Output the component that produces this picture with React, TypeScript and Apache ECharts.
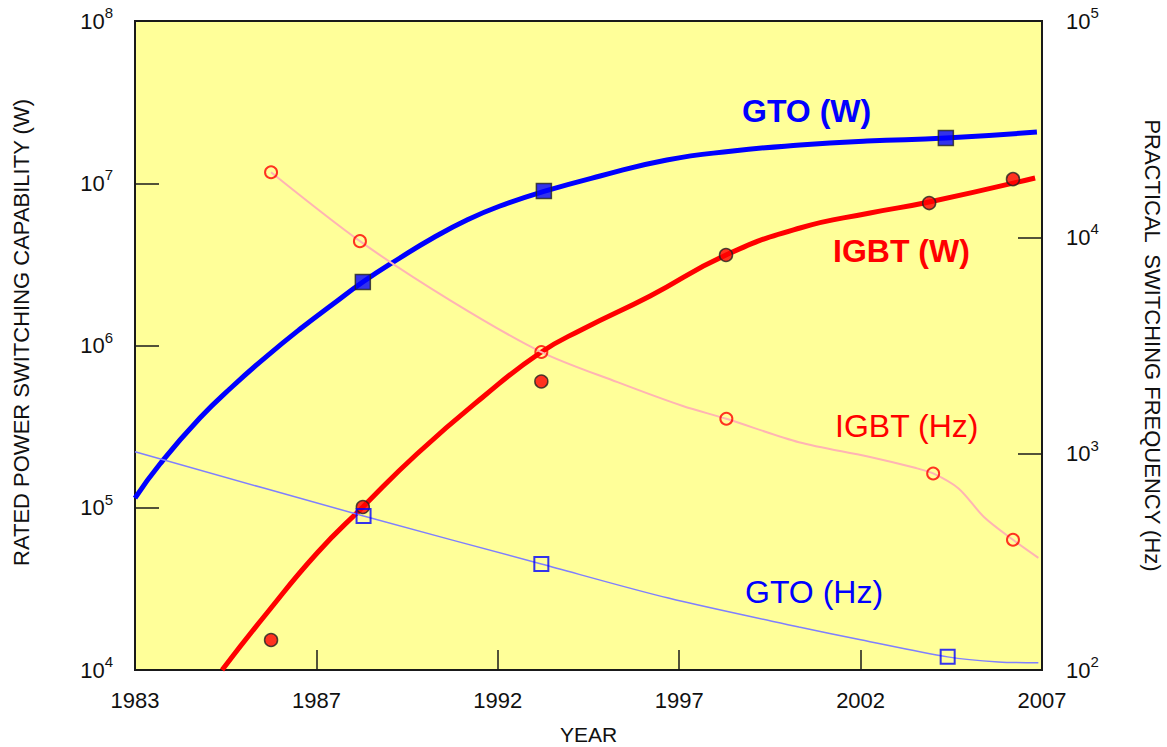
import React, { useEffect, useRef } from "react";
import * as echarts from "echarts";

// ---- axis ticks ----
const xTickYears = [1983, 1987, 1992, 1997, 2002, 2007];

// ---- GTO (W) ----
const gtoWCurveYears = [1983.0, 1983.55, 1984.43, 1985.16, 1985.91, 1986.64, 1987.46, 1988.28, 1989.3, 1990.21, 1991.15, 1992.06, 1993.27, 1994.82, 1996.66, 1998.48, 2000.33, 2002.18, 2004.35, 2006.86];
const gtoWCurveValues = [1.148e5, 1.861e5, 3.574e5, 5.63e5, 8.61e5, 1.264e6, 1.803e6, 2.463e6, 3.462e6, 4.598e6, 5.935e6, 7.24e6, 8.9e6, 1.108e7, 1.391e7, 1.58e7, 1.72e7, 1.821e7, 1.9e7, 2.07e7];
const gtoWYears = [1988.28, 1993.27, 2004.35];
const gtoWValues = [2.463e6, 8.96e6, 1.9e7];

// ---- IGBT (W) ----
const igbtWCurveYears = [1984.92, 1985.91, 1987.02, 1988.28, 1989.77, 1991.59, 1993.16, 1994.35, 1996.2, 1998.29, 2000.33, 2002.26, 2003.89, 2006.81];
const igbtWCurveValues = [1.0e4, 2.245e4, 5.26e4, 1.011e5, 2.145e5, 4.815e5, 8.99e5, 1.264e6, 2.02e6, 3.613e6, 5.3e6, 6.556e6, 7.664e6, 1.078e7];
const igbtWYears = [1986.0, 1988.28, 1993.2, 1998.29, 2003.89, 2006.2];
const igbtWValues = [1.53e4, 1.01e5, 6.0e5, 3.613e6, 7.55e6, 1.06e7];

// ---- IGBT (Hz) ----
const igbtHzCurveYears = [1986.0, 1988.2, 1990.7, 1993.2, 1995.3, 1997.1, 1998.3, 2000.3, 2002.2, 2003.5, 2004.0, 2004.7, 2005.4, 2006.2, 2006.9];
const igbtHzCurveValues = [2.0e4, 9.6e3, 5.1e3, 2.95e3, 2.14e3, 1.66e3, 1.45e3, 1.13e3, 9.7e2, 8.6e2, 8.1e2, 6.9e2, 5.1e2, 4.0e2, 3.3e2];
const igbtHzYears = [1986.0, 1988.2, 1993.2, 1998.3, 2004.0, 2006.2];
const igbtHzValues = [2.0e4, 9.6e3, 2.95e3, 1.45e3, 8.1e2, 4.0e2];

// ---- GTO (Hz) ----
const gtoHzCurveYears = [1983.0, 1988.3, 1993.2, 1996.7, 2000.3, 2002.0, 2004.4, 2005.8, 2006.9];
const gtoHzCurveValues = [1.02e3, 5.15e2, 3.09e2, 2.15e2, 1.58e2, 1.38e2, 1.15e2, 1.09e2, 1.08e2];
const gtoHzYears = [1988.3, 1993.2, 2004.4];
const gtoHzValues = [5.15e2, 3.09e2, 1.15e2];

const FONT = "'Liberation Sans', Arial, Helvetica, sans-serif";

// map a year onto the evenly spaced tick positions of the x axis
function yearPos(year: number): number {
  for (let i = 0; i < xTickYears.length - 1; i++) {
    const a = xTickYears[i];
    const b = xTickYears[i + 1];
    if (year <= b || i === xTickYears.length - 2) {
      return i + (year - a) / (b - a);
    }
  }
  return 0;
}

function pairs(xs: number[], ys: number[]) {
  return xs.map((x, i) => [yearPos(x), ys[i]]);
}

const powLabel = (v: number) => {
  const e = Math.round(Math.log10(v));
  return `{b|10}{s|${e}}`;
};

const richPow = {
  b: { fontSize: 22, lineHeight: 32, fontFamily: FONT, color: "#111" },
  s: { fontSize: 15, verticalAlign: "top", fontFamily: FONT, color: "#111" },
};

export default function App() {
  const ref = useRef<HTMLDivElement>(null);

  useEffect(() => {
    document.body.style.margin = "0";
    document.body.style.overflow = "hidden";
    if (!ref.current) return;
    const chart = echarts.init(ref.current, null, { renderer: "svg" });

    const option = {
      animation: false,
      backgroundColor: "#ffffff",
      textStyle: { fontFamily: FONT },
      grid: {
        left: 135,
        right: 125,
        top: 21,
        bottom: 77,
        outerBoundsMode: "none",
        containLabel: false,
        show: true,
        backgroundColor: "#ffff99",
        borderColor: "#1a1a1a",
        borderWidth: 2,
      },
      xAxis: {
        type: "value",
        min: 0,
        max: 5,
        interval: 1,
        name: "YEAR",
        nameLocation: "middle",
        nameGap: 54,
        nameTextStyle: { fontSize: 21, color: "#111", fontFamily: FONT },
        axisLine: { show: true, lineStyle: { color: "#1a1a1a", width: 2 } },
        axisTick: { show: true, inside: true, length: 20, lineStyle: { color: "#1a1a1a", width: 1.5 } },
        axisLabel: {
          margin: 19,
          fontSize: 22,
          color: "#111",
          fontFamily: FONT,
          formatter: (v: number) => String(xTickYears[Math.round(v)] ?? ""),
        },
        splitLine: { show: false },
      },
      yAxis: [
        {
          type: "log",
          logBase: 10,
          min: 1e4,
          max: 1e8,
          position: "left",
          name: "RATED POWER SWITCHING CAPABILITY (W)",
          nameLocation: "middle",
          nameGap: 103,
          nameTextStyle: { fontSize: 22, color: "#111", fontFamily: FONT, padding: [0, 0, 0, 26] },
          axisLine: { show: true, lineStyle: { color: "#1a1a1a", width: 2 } },
          axisTick: { show: true, inside: true, length: 24, lineStyle: { color: "#1a1a1a", width: 1.5 } },
          axisLabel: { margin: 22, formatter: powLabel, rich: richPow },
          splitLine: { show: false },
          minorTick: { show: false },
        },
        {
          type: "log",
          logBase: 10,
          min: 1e2,
          max: 1e5,
          position: "right",
          name: "PRACTICAL  SWITCHING FREQUENCY (Hz)",
          nameLocation: "middle",
          nameRotate: -90,
          nameGap: 99,
          nameTextStyle: { fontSize: 22, color: "#111", fontFamily: FONT },
          axisLine: { show: true, lineStyle: { color: "#1a1a1a", width: 2 } },
          axisTick: { show: true, inside: true, length: 24, lineStyle: { color: "#1a1a1a", width: 1.5 } },
          axisLabel: { margin: 24, formatter: powLabel, rich: richPow },
          splitLine: { show: false },
        },
      ],
      series: [
        {
          name: "GTO (W) curve",
          type: "line",
          yAxisIndex: 0,
          smooth: 0.5,
          showSymbol: false,
          lineStyle: { color: "#0000ff", width: 5 },
          data: pairs(gtoWCurveYears, gtoWCurveValues),
          z: 2,
        },
        {
          name: "IGBT (W) curve",
          type: "line",
          yAxisIndex: 0,
          smooth: 0.5,
          showSymbol: false,
          lineStyle: { color: "#ff0000", width: 5 },
          data: pairs(igbtWCurveYears, igbtWCurveValues),
          z: 2,
        },
        {
          name: "GTO (W)",
          type: "scatter",
          yAxisIndex: 0,
          symbol: "rect",
          symbolSize: 15,
          itemStyle: { color: "#0000ff", borderColor: "#222", borderWidth: 1.5 },
          data: pairs(gtoWYears, gtoWValues),
          z: 3,
        },
        {
          name: "IGBT (W)",
          type: "scatter",
          yAxisIndex: 0,
          symbol: "circle",
          symbolSize: 13,
          itemStyle: { color: "#ff0000", borderColor: "#222", borderWidth: 1.5 },
          data: pairs(igbtWYears, igbtWValues),
          z: 3,
        },
        {
          name: "IGBT (Hz) curve",
          type: "line",
          yAxisIndex: 1,
          smooth: 0.3,
          showSymbol: false,
          lineStyle: { color: "#ffb4b4", width: 2 },
          data: pairs(igbtHzCurveYears, igbtHzCurveValues),
          z: 4,
        },
        {
          name: "GTO (Hz) curve",
          type: "line",
          yAxisIndex: 1,
          smooth: 0.3,
          showSymbol: false,
          lineStyle: { color: "#7f7fff", width: 1.5 },
          data: pairs(gtoHzCurveYears, gtoHzCurveValues),
          z: 4,
        },
        {
          name: "IGBT (Hz)",
          type: "scatter",
          yAxisIndex: 1,
          symbol: "circle",
          symbolSize: 12,
          itemStyle: { color: "rgba(0,0,0,0)", borderColor: "#ff0000", borderWidth: 2 },
          data: pairs(igbtHzYears, igbtHzValues),
          z: 5,
        },
        {
          name: "GTO (Hz)",
          type: "scatter",
          yAxisIndex: 1,
          symbol: "rect",
          symbolSize: 14,
          itemStyle: { color: "rgba(0,0,0,0)", borderColor: "#0000ff", borderWidth: 2 },
          data: pairs(gtoHzYears, gtoHzValues),
          z: 5,
        },
      ],
      graphic: [
        {
          type: "text",
          left: 742,
          top: 95,
          z: 10,
          style: { text: "GTO (W)", fill: "#0000ff", font: `bold 32px ${FONT}` },
        },
        {
          type: "text",
          left: 833,
          top: 235,
          z: 10,
          style: { text: "IGBT (W)", fill: "#ff0000", font: `bold 32px ${FONT}` },
        },
        {
          type: "text",
          left: 835,
          top: 410,
          z: 10,
          style: { text: "IGBT (Hz)", fill: "#ff0000", font: `32px ${FONT}` },
        },
        {
          type: "text",
          left: 745,
          top: 576,
          z: 10,
          style: { text: "GTO (Hz)", fill: "#0000ff", font: `32px ${FONT}` },
        },
      ],
    };

    chart.setOption(option as any);
    return () => chart.dispose();
  }, []);

  return <div ref={ref} style={{ width: 1167, height: 747 }} />;
}
